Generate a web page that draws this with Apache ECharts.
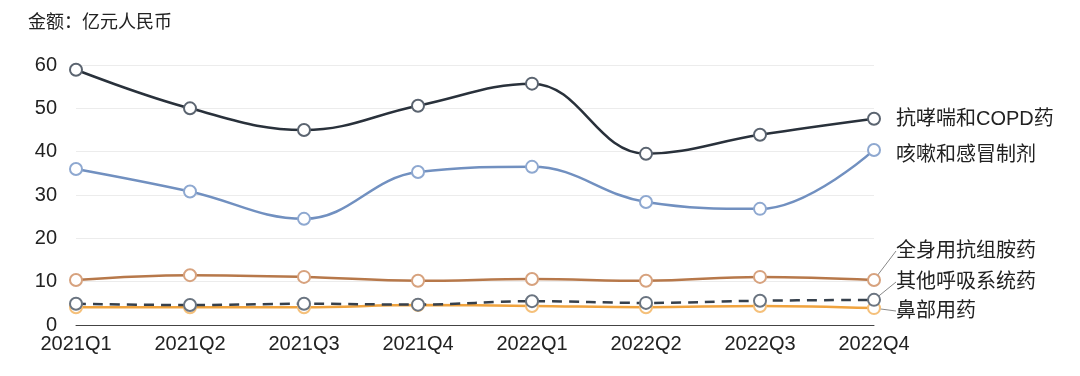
<!DOCTYPE html>
<html>
<head>
<meta charset="utf-8">
<script src="https://cdn.jsdelivr.net/npm/echarts@6/dist/echarts.min.js"></script>
<style>
  html, body { margin: 0; padding: 0; background: #fff; }
  #chart { width: 1080px; height: 376px; }
</style>
</head>
<body>
<div id="chart"></div>
<script>
var quarters = ["2021Q1", "2021Q2", "2021Q3", "2021Q4", "2022Q1", "2022Q2", "2022Q3", "2022Q4"];
var names = ["抗哮喘和COPD药", "咳嗽和感冒制剂", "全身用抗组胺药", "其他呼吸系统药", "鼻部用药"];
var asthma = [58.9, 50.0, 45.0, 50.6, 55.7, 39.5, 43.9, 47.6];
var cough = [36.0, 30.8, 24.5, 35.3, 36.5, 28.4, 26.8, 40.4];
var antihist = [10.4, 11.5, 11.1, 10.2, 10.6, 10.2, 11.1, 10.4];
var otherResp = [4.9, 4.6, 4.9, 4.7, 5.5, 5.1, 5.6, 5.8];
var nasal = [4.1, 4.1, 4.1, 4.6, 4.4, 4.1, 4.4, 3.9];

var chart = echarts.init(document.getElementById("chart"));
var font = "'Liberation Sans', 'Noto Sans CJK SC', sans-serif";

// 末尾标签的位置（y像素），靠下的三个带引导线
var labelY = [119, 155, 251, 282, 311];

function makeSeries(idx, data, lineColor, dotColor, dashed, z) {
  var points = data.map(function (v, i) {
    if (i == data.length - 1) {
      return {
        value: v,
        label: {
          show: true,
          formatter: names[idx],
          color: "#222",
          fontSize: 20,
          fontFamily: font
        },
        labelLine: {
          show: idx >= 2,
          lineStyle: { color: "#888", width: 1 }
        }
      };
    }
    return v;
  });
  return {
    name: names[idx],
    type: "line",
    smooth: 0.4,
    z: z,
    data: points,
    symbol: "emptyCircle",
    symbolSize: 12,
    lineStyle: {
      color: lineColor,
      width: 2.5,
      type: dashed ? [10, 7] : "solid"
    },
    itemStyle: { color: dotColor, borderWidth: 1.2 },
    labelLayout: function (params) {
      return {
        x: 896,
        y: labelY[idx],
        align: "left",
        verticalAlign: "middle"
      };
    }
  };
}

var option = {
  animation: false,
  textStyle: { fontFamily: font },
  title: {
    text: "金额：亿元人民币",
    left: 23,
    top: 9,
    textStyle: { fontSize: 18, fontWeight: "normal", color: "#222", fontFamily: font }
  },
  grid: { left: 76, right: 206, top: 65, bottom: 51 },
  xAxis: {
    type: "category",
    data: quarters,
    boundaryGap: false,
    axisTick: { show: false },
    axisLine: { lineStyle: { color: "#444", width: 1 } },
    axisLabel: { color: "#222", fontSize: 20, margin: 9, fontFamily: font }
  },
  yAxis: {
    type: "value",
    min: 0,
    max: 60,
    interval: 10,
    axisLabel: { color: "#222", fontSize: 20, margin: 19, fontFamily: font },
    splitLine: { lineStyle: { color: "#ececec" } }
  },
  series: [
    makeSeries(0, asthma, "#29313b", "#5b6470", false, 5),
    makeSeries(1, cough, "#7190c0", "#8ea8d0", false, 4),
    makeSeries(2, antihist, "#b7784a", "#d7a27e", false, 3),
    makeSeries(3, otherResp, "#36404c", "#6a7480", true, 3),
    makeSeries(4, nasal, "#f0a33e", "#f5c07a", false, 2)
  ]
};
chart.setOption(option);
</script>
</body>
</html>
